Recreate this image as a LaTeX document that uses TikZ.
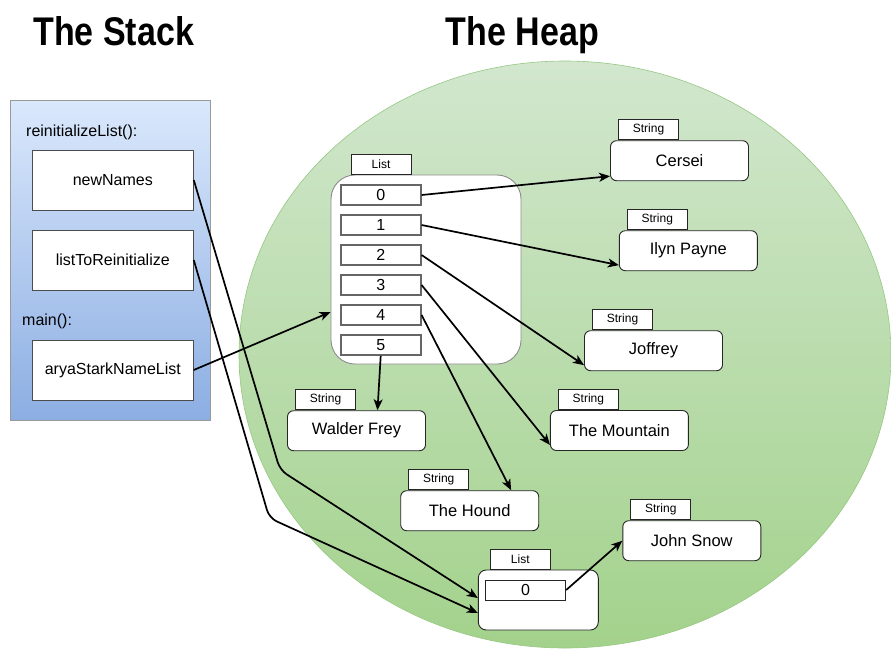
\documentclass[tikz,border=0pt]{standalone}
\usepackage{fontspec}
\setmainfont{Liberation Sans}
\usetikzlibrary{arrows.meta}
\definecolor{heapTop}{RGB}{210,231,206}
\definecolor{heapBot}{RGB}{163,210,140}
\definecolor{heapEdge}{RGB}{150,200,130}
\definecolor{stackTop}{RGB}{218,232,252}
\definecolor{stackBot}{RGB}{140,174,226}
\definecolor{cellgray}{RGB}{102,102,102}
\begin{document}
\begin{tikzpicture}[x=1pt,y=-1pt,
  strbox/.style={draw=black!85, fill=white, rounded corners=6pt, minimum width=138pt, minimum height=40pt, inner sep=0pt, font=\fontsize{16.5}{19}\selectfont, line width=0.9pt},
  tabbox/.style={draw=black!85, fill=white, minimum width=60pt, minimum height=20pt, inner sep=0pt, font=\fontsize{12}{14}\selectfont, line width=0.9pt, anchor=south west},
  cellbox/.style={draw=cellgray, fill=white, line width=1.8pt, minimum width=80pt, minimum height=20pt, inner sep=0pt, font=\fontsize{16}{19}\selectfont},
  varbox/.style={draw=black!70, fill=white, minimum width=161pt, minimum height=60pt, inner sep=0pt, font=\fontsize{16}{19}\selectfont, line width=0.9pt},
  framelabel/.style={anchor=west, inner sep=0pt, font=\fontsize{16}{19}\selectfont},
  title/.style={anchor=base, inner sep=0pt, font=\fontsize{40}{44}\selectfont\bfseries},
  arr/.style={-{Stealth[length=11pt,width=9pt,inset=3pt]}, line width=1.7pt, black}]
\useasboundingbox (0,0) rectangle (891,651);
\fill[white] (0,0) rectangle (891,651);
% heap
\shade[top color=heapTop, bottom color=heapBot, draw=heapEdge, line width=0.6pt] (565,354.5) ellipse [x radius=326pt, y radius=293.5pt];
% stack
\node[draw=gray!80, top color=stackTop, bottom color=stackBot, minimum width=200pt, minimum height=320pt, inner sep=0pt, line width=0.9pt] (stack) at (110,260) {};
% titles
\node[title] (stackTitle) at (113.7,45) {\scalebox{0.85}[1]{The Stack}};
\node[title] (heapTitle) at (522.3,45) {\scalebox{0.85}[1]{The Heap}};
% stack frames
\node[framelabel] (frameR) at (26,132) {reinitializeList():};
\node[framelabel] (frameM) at (22,321) {main():};
\node[varbox] (newNames) at (112.8,180) {newNames};
\node[varbox] (listToReinit) at (112.8,260) {listToReinitialize};
\node[varbox] (arya) at (112.8,370) {aryaStarkNameList};
% list 1
\node[draw=gray!90, fill=white, rounded corners=24pt, minimum width=190pt, minimum height=189pt, inner sep=0pt, line width=0.9pt] (list) at (426,269.5) {};
\node[tabbox] (listT) at ([xshift=20pt]list.north west) {List};
\node[cellbox] (c0) at (380.7,195) {0};
\node[cellbox] (c1) at (380.7,225) {1};
\node[cellbox] (c2) at (380.7,255) {2};
\node[cellbox] (c3) at (380.7,285) {3};
\node[cellbox] (c4) at (380.7,315) {4};
\node[cellbox] (c5) at (380.7,345) {5};
% list 2
\node[draw=black!85, fill=white, rounded corners=8pt, minimum width=120pt, minimum height=60pt, inner sep=0pt, line width=0.9pt] (list2) at (538.3,600) {};
\node[tabbox] (list2T) at ([xshift=12pt]list2.north west) {List};
\node[draw=black!85, fill=white, minimum width=80.4pt, minimum height=20pt, inner sep=0pt, line width=0.9pt, font=\fontsize{16}{19}\selectfont] (l2c0) at (525.5,590) {0};
% strings
\node[strbox] (cersei) at (679.5,160.7) {Cersei};
\node[tabbox] (cerseiT) at ([xshift=8pt]cersei.north west) {String};
\node[strbox] (ilyn) at (688.3,250.7) {Ilyn Payne};
\node[tabbox] (ilynT) at ([xshift=8pt]ilyn.north west) {String};
\node[strbox] (joffrey) at (653.5,350.7) {Joffrey};
\node[tabbox] (joffreyT) at ([xshift=8pt]joffrey.north west) {String};
\node[strbox] (walder) at (356.5,430.7) {Walder Frey};
\node[tabbox] (walderT) at ([xshift=8pt]walder.north west) {String};
\node[strbox] (mountain) at (619.4,430.5) {The Mountain};
\node[tabbox] (mountainT) at ([xshift=8pt]mountain.north west) {String};
\node[strbox] (hound) at (469.7,510.7) {The Hound};
\node[tabbox] (houndT) at ([xshift=8pt]hound.north west) {String};
\node[strbox] (john) at (691.8,540.7) {John Snow};
\node[tabbox] (johnT) at ([xshift=8pt]john.north west) {String};
% arrows
\draw[arr] (c0.east) -- ([yshift=5pt]cersei.south west);
\draw[arr] (c1.east) -- ([yshift=6pt]ilyn.south west);
\draw[arr] (c2.east) -- ([yshift=6pt]joffrey.south west);
\draw[arr] (c3.east) -- ([yshift=6pt]mountain.south west);
\draw[arr] (c4.east) -- ([xshift=-28pt]hound.north east);
\draw[arr] (c5.south) -- ([xshift=21pt]walder.north);
\draw[arr] (arya.east) -- ([yshift=-42.5pt]list.west);
\coordinate (bendA) at (280,470);
\coordinate (bendB) at (269.3,518);
\draw[arr, rounded corners=8pt] (newNames.east) -- (bendA) -- ([yshift=2pt]list2.west);
\draw[arr, rounded corners=8pt] (listToReinit.east) -- (bendB) -- ([yshift=-13pt]list2.west);
\draw[arr] (l2c0.east) -- (john.west);
\end{tikzpicture}
\end{document}
